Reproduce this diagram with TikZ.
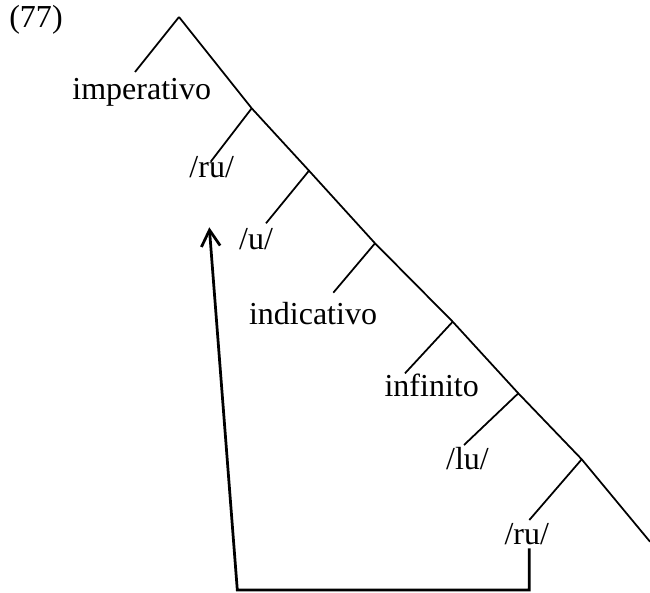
\documentclass[tikz,border=0pt]{standalone}
\usepackage{fontspec}
\setmainfont{Liberation Serif}
\usetikzlibrary{arrows.meta}

\begin{document}
\begin{tikzpicture}[
  x=0.4pt, y=-0.4pt,
  every node/.style={font=\fontsize{12.8}{15}\selectfont, inner sep=0pt, anchor=base},
  branch/.style={line width=0.7pt},
  backarr/.style={line width=1.1pt, -{Straight Barb[length=6.5pt,width=7.5pt]}}
]
  \useasboundingbox (0,0) rectangle (650,592);

  \node (num)  at (36,28)    {(77)};
  \node (imp)  at (141.7,99.5) {imperativo};
  \node (ruA)  at (211.7,177.5) {/ru/};
  \node (u)    at (256,249.5)  {/u/};
  \node (ind)  at (313,324)  {indicativo};
  \node (inf)  at (431.7,396) {infinito};
  \node (lu)   at (467.5,469) {/lu/};
  \node (ruB)  at (526.8,544) {/ru/};

  \coordinate (root) at (179,17);
  \coordinate (bA) at (251.7,108.3);
  \coordinate (bB) at (309,170.7);
  \coordinate (bC) at (375,243.3);
  \coordinate (bD) at (452.7,321.7);
  \coordinate (bE) at (518.3,393.3);
  \coordinate (bF) at (581.7,459.3);
  \coordinate (tail) at (650,541.7);

  \coordinate (impend) at (135,72);
  \coordinate (ruAend) at (210.7,161.7);
  \coordinate (uend)   at (266,223.3);
  \coordinate (indend) at (333.3,292.7);
  \coordinate (infend) at (405,373.3);
  \coordinate (luend)  at (464,445);
  \coordinate (ruBend) at (529.3,520);

  \draw[branch] (root) -- (bA) -- (bB) -- (bC) -- (bD) -- (bE) -- (bF) -- (tail);
  \draw[branch] (root) -- (impend);
  \draw[branch] (bA) -- (ruAend);
  \draw[branch] (bB) -- (uend);
  \draw[branch] (bC) -- (indend);
  \draw[branch] (bD) -- (infend);
  \draw[branch] (bE) -- (luend);
  \draw[branch] (bF) -- (ruBend);

  \coordinate (start) at (529.3,548.3);
  \coordinate (cornR) at (529.3,590);
  \coordinate (cornL) at (237.3,590);
  \coordinate (tip)   at (209.3,227.3);
  \draw[backarr] (start) -- (cornR) -- (cornL) -- (tip);
\end{tikzpicture}
\end{document}
